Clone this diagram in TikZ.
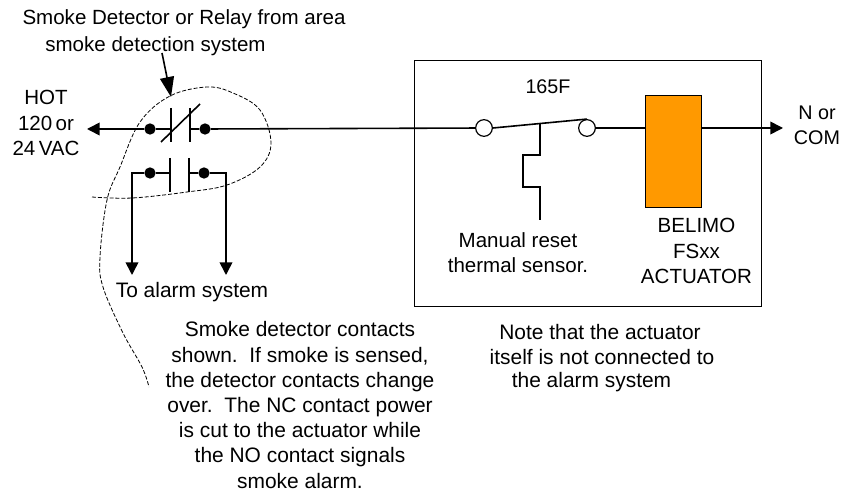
\documentclass[tikz,border=0pt]{standalone}
\usepackage{fontspec}
\setmainfont{Liberation Sans}
\usetikzlibrary{arrows.meta}
\definecolor{act}{RGB}{255,153,0}
\tikzset{
 x=0.75pt,y=-0.75pt,
 wire/.style={line width=1.2pt,black},
 tip/.style={-{Triangle[length=9.5pt,width=9.5pt]}},
 dot/.style={circle,fill=black,inner sep=0pt,minimum size=8.5pt},
 ring/.style={circle,draw=black,line width=0.9pt,fill=white,inner sep=0pt,minimum size=12.5pt},
 bound/.style={line width=0.6pt,dash pattern=on 3pt off 1.4pt,black},
 lbl/.style={font=\fontsize{15.4}{18.9}\selectfont,align=center,inner sep=0pt,black},
 lbls/.style={font=\fontsize{14.8}{18.9}\selectfont,align=center,inner sep=0pt,black},
 lbln/.style={font=\fontsize{15.7}{18.9}\selectfont,align=center,inner sep=0pt,black},
}
\begin{document}
\begin{tikzpicture}
\useasboundingbox (0,0) rectangle (841,491);
\fill[white] (0,0) rectangle (841,491);
% housing
\node[draw=black,line width=0.9pt,minimum width=260.25pt,minimum height=184.5pt,inner sep=0pt,anchor=north west] (box) at (414,60) {};
% terminals
\node[dot] (a1) at (150,129) {};
\node[dot] (a2) at (205,129) {};
\node[dot] (b1) at (150,173) {};
\node[dot] (b2) at (204,173) {};
\node[ring] (r1) at (484,128) {};
\node[ring] (r2) at (587,128) {};
\node[draw=black,line width=0.9pt,fill=act,minimum width=42pt,minimum height=84pt,inner sep=0pt,anchor=north west] (act) at (645,95) {};
% free ends
\coordinate (hot) at (87,129);
\coordinate (ca) at (171,129);
\coordinate (cb) at (190,129);
\coordinate (cc) at (170,173);
\coordinate (cd) at (189,173);
\coordinate (com) at (783,128);
\coordinate (al1) at (132,275);
\coordinate (al2) at (226,275);
\coordinate (smk0) at (162,53);
\coordinate (smk1) at (171,97);
% main line
\draw[wire,tip] (a1) -- (hot);
\draw[wire] (a1) -- (ca);
\draw[wire] (a2) -- (cb);
\draw[wire] (a2) -- (r1);
\draw[wire] (r2) -- (act.west |- r2);
\draw[wire,tip] (act.east |- com) -- (com);
% NC contact
\draw[wire] (171,108) -- (171,142);
\draw[wire] (190,108) -- (190,142);
\draw[wire] (161,142) -- (200,104);
% NO contact
\draw[wire] (170,158) -- (170,192);
\draw[wire] (189,158) -- (189,192);
\draw[wire] (b1) -- (cc);
\draw[wire] (b2) -- (cd);
\draw[wire,tip] (b1) -- (132,173) -- (al1);
\draw[wire,tip] (b2) -- (226,173) -- (al2);
% thermal switch
\draw[wire] (r1.east) -- (r2.north);
\draw[wire] (540,124) -- (540,155) -- (523,155) -- (523,187) -- (540,187) -- (540,220);
% pointer
\draw[wire,-{Triangle[length=15pt,width=10.5pt]}] (smk0) -- (smk1);
% dashed boundary
\draw[bound] plot[smooth,tension=0.6] coordinates {(92,197) (132,198) (187,192) (227,185) (260,167) (271,143) (260,110) (233,93) (207,87) (170,96) (140,122) (120,167) (107,200) (100,257) (103,287) (123,333) (142,367) (149,387)};
% labels
\node[lbl] (t1a) at (184,19) {Smoke Detector or Relay from area};
\node[lbl] (t1b) at (155.5,46) {smoke detection system};
\node[lbl] (t2) at (46,123) {HOT\\120\,or\\24\,VAC};
\node[lbln] (t3) at (192,292) {To alarm system};
\node[lbln] (t4) at (300,405) {Smoke detector contacts\\shown.\ \ If smoke is sensed,\\the detector contacts change\\over.\ \ The NC contact power\\is cut to the actuator while\\the NO contact signals\\smoke alarm.};
\node[lbls] (t6) at (548,87) {165F};
\node[lbl] (t7) at (518,253) {Manual reset\\thermal sensor.};
\node[lbl] (t8) at (696.5,251) {BELIMO\\FSxx\\ACTUATOR};
\node[lbls] (t9) at (817,125.5) {N or\\COM};
\node[lbln] (t10a) at (600,332) {Note that the actuator};
\node[lbln] (t10b) at (602,357) {itself is not connected to};
\node[lbln] (t10c) at (591.5,382) {the alarm system};
\end{tikzpicture}
\end{document}
